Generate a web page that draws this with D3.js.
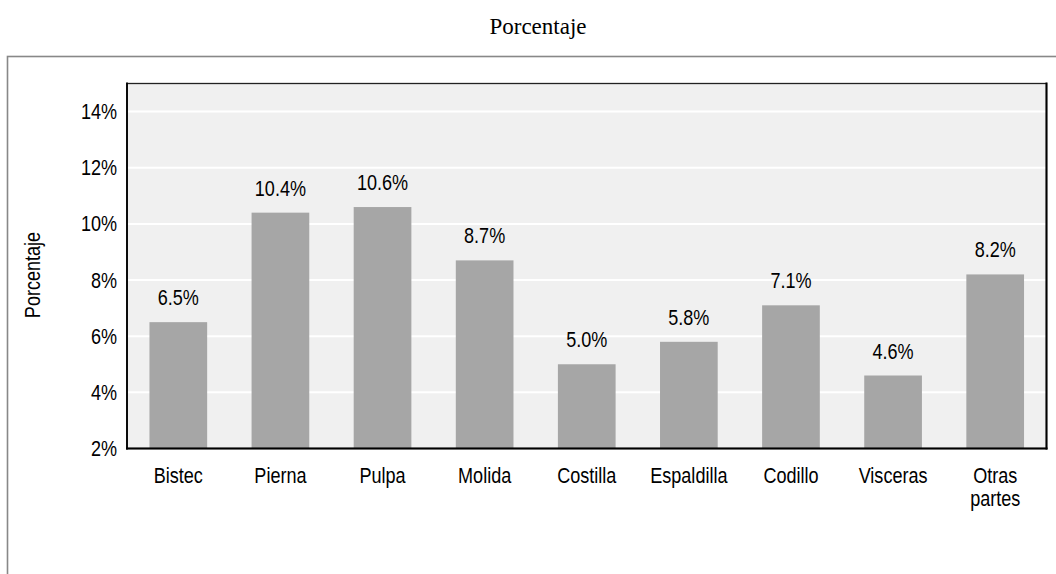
<!DOCTYPE html>
<html><head><meta charset="utf-8">
<script src="https://cdn.jsdelivr.net/npm/d3@7"></script>
<style>
body{margin:0;background:#fff;}
svg{display:block;}
.nar{font-family:"Liberation Sans",Arial,sans-serif;}
</style></head><body>
<svg id="c" width="1056" height="574"></svg>
<script>
const categories = ["Bistec","Pierna","Pulpa","Molida","Costilla","Espaldilla","Codillo","Visceras","Otras partes"];
const values = [6.5,10.4,10.6,8.7,5.0,5.8,7.1,4.6,8.2];
const yTicks = [2,4,6,8,10,12,14];
const chartTitle = "Porcentaje";
const yTitle = "Porcentaje";

const FS = 22, SQ = 0.82;
function narrow(sel){
  sel.each(function(){
    const n = this.getComputedTextLength();
    d3.select(this).attr("textLength", n*SQ).attr("lengthAdjust","spacingAndGlyphs");
  });
}

const svg = d3.select("#c");
const L=127, T=83.5, R=1046.5, B=448.5;

svg.append("text").attr("x",538).attr("y",34).attr("text-anchor","middle")
  .attr("font-family","'Liberation Serif','Times New Roman',serif").attr("font-size",23).attr("fill","#000").text(chartTitle);

svg.append("rect").attr("x",7.5).attr("y",56.5).attr("width",1200).attr("height",700)
  .attr("fill","none").attr("stroke","#888").attr("stroke-width",1.6);

const x = d3.scaleBand().domain(categories).range([L,R]).paddingInner(0.435).paddingOuter(0.22);
const y = d3.scaleLinear().domain([2,15]).range([B,T]);

svg.append("rect").attr("x",L).attr("y",T).attr("width",R-L).attr("height",B-T).attr("fill","#f0f0f0");

const g = svg.append("g");
g.selectAll("line.grid").data(yTicks.filter(t=>t>2)).join("line")
  .attr("x1",L).attr("x2",R).attr("y1",d=>y(d)).attr("y2",d=>y(d))
  .attr("stroke","#fff").attr("stroke-width",2);

g.selectAll("rect.bar").data(values).join("rect")
  .attr("x",(d,i)=>x(categories[i])).attr("width",x.bandwidth())
  .attr("y",d=>y(d)).attr("height",d=>B-y(d))
  .attr("fill","#a6a6a6");

g.selectAll("text.lab").data(values).join("text").attr("class","nar")
  .attr("x",(d,i)=>x(categories[i])+x.bandwidth()/2).attr("y",d=>y(d)-17)
  .attr("text-anchor","middle").attr("font-size",FS).attr("fill","#000")
  .text(d=>d.toFixed(1)+"%").call(narrow);

// plot border
svg.append("rect").attr("x",L).attr("y",T).attr("width",R-L).attr("height",B-T)
  .attr("fill","none").attr("stroke","#222").attr("stroke-width",1.3);
svg.append("line").attr("x1",L-1).attr("x2",R+1).attr("y1",B).attr("y2",B).attr("stroke","#000").attr("stroke-width",2);
svg.append("line").attr("x1",R).attr("x2",R).attr("y1",T-1).attr("y2",B+1).attr("stroke","#000").attr("stroke-width",2);
svg.append("line").attr("x1",L).attr("x2",L).attr("y1",T-1).attr("y2",B+1).attr("stroke","#000").attr("stroke-width",1.8);

// y axis
const ya = svg.append("g").attr("transform",`translate(${L},0)`)
  .call(d3.axisLeft(y).tickValues(yTicks).tickSize(0).tickPadding(10).tickFormat(d=>d+"%"));
ya.select(".domain").remove();
ya.attr("font-family",null).attr("font-size",null);
ya.selectAll("text").attr("class","nar").attr("font-size",FS).attr("fill","#000").call(narrow);

// x axis
const xa = svg.append("g").attr("transform",`translate(0,${B})`)
  .call(d3.axisBottom(x).tickSize(0).tickPadding(0).tickFormat(""));
xa.select(".domain").remove();
xa.selectAll(".tick").each(function(d){
  const words = d.split(" ");
  const t = d3.select(this).append("text").attr("class","nar").attr("font-size",FS)
    .attr("fill","#000").attr("text-anchor","middle");
  words.forEach((w,i)=>t.append("tspan").attr("x",0).attr("y",34+i*23.5).text(w));
  t.selectAll("tspan").call(narrow);
});

svg.append("text").attr("class","nar").attr("font-size",FS).attr("fill","#000")
  .attr("text-anchor","middle").attr("transform","translate(40,275) rotate(-90)").text(yTitle).call(narrow);
</script></body></html>
